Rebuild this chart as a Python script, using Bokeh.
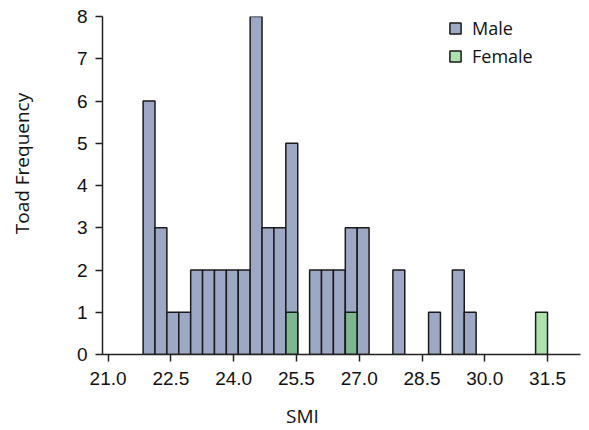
import math
from bokeh.plotting import figure
from bokeh.models import (Range1d, FixedTicker, PrintfTickFormatter, Legend,
                          LegendItem, Label, ColumnDataSource)
from bokeh.embed import file_html
from bokeh.resources import INLINE

# ---- data ----
bin_start = 21.836
bin_width = 0.2842
male_counts = [6, 3, 1, 1, 2, 2, 2, 2, 2, 8, 3, 3, 5, 0, 2, 2, 2, 3, 3, 0,
               0, 2, 0, 0, 1, 0, 2, 1, 0, 0, 0, 0, 0, 0]
female_counts = [0, 0, 0, 0, 0, 0, 0, 0, 0, 0, 0, 0, 1, 0, 0, 0, 0, 1, 0, 0,
                 0, 0, 0, 0, 0, 0, 0, 0, 0, 0, 0, 0, 0, 1]
x_ticks = [21.0, 22.5, 24.0, 25.5, 27.0, 28.5, 30.0, 31.5]
y_ticks = [0, 1, 2, 3, 4, 5, 6, 7, 8]
series_names = ["Male", "Female"]
x_title = "SMI"
y_title = "Toad Frequency"


def bars(counts):
    left, right, top = [], [], []
    for i, c in enumerate(counts):
        if c > 0:
            left.append(bin_start + i * bin_width)
            right.append(bin_start + (i + 1) * bin_width)
            top.append(c)
    return ColumnDataSource(dict(left=left, right=right, top=top,
                                 bottom=[0] * len(top)))


MALE = "#9da8c4"
FEMALE = "#5fc35f"
INK = "#1a1a1a"

p = figure(width=581, height=430, output_backend="svg", toolbar_location=None,
           x_range=Range1d(20.866, 32.287), y_range=Range1d(0, 8),
           min_border_left=102, min_border_right=1, min_border_top=16,
           min_border_bottom=76)
p.outline_line_color = None
p.grid.visible = False

p.quad(left="left", right="right", top="top", bottom="bottom",
       source=bars(male_counts), fill_color=MALE, line_color=INK,
       line_width=1.5)
p.quad(left="left", right="right", top="top", bottom="bottom",
       source=bars(female_counts), fill_color=FEMALE, fill_alpha=0.5,
       line_color=INK, line_width=1.5)

# legend-only renderers (no visible data points)
nan = float("nan")
rm = p.scatter([nan], [nan], marker="square", fill_color=MALE,
               line_color=INK, line_width=1.5)
rf = p.scatter([nan], [nan], marker="square", fill_color=FEMALE,
               fill_alpha=0.5, line_color=INK, line_width=1.5)
legend = Legend(items=[LegendItem(label=series_names[0], renderers=[rm]),
                       LegendItem(label=series_names[1], renderers=[rf])],
                location=(339, 284), glyph_width=28, glyph_height=28,
                label_height=28, spacing=0, padding=0, margin=0,
                label_standoff=3, border_line_color=None,
                background_fill_alpha=0, label_text_font="Open Sans",
                label_text_font_size="18px", label_text_color="#111111")
p.add_layout(legend)

for ax in (p.xaxis[0], p.yaxis[0]):
    ax.axis_line_color = "#222222"
    ax.axis_line_width = 1.5
    ax.major_tick_line_color = "#222222"
    ax.major_tick_line_width = 1.5
    ax.major_tick_out = 7
    ax.major_tick_in = 0
    ax.minor_tick_line_color = None
    ax.major_label_text_font = "Liberation Sans"
    ax.major_label_text_font_size = "19px"
    ax.major_label_text_color = "#111111"

p.xaxis.ticker = FixedTicker(ticks=x_ticks)
p.xaxis.formatter = PrintfTickFormatter(format="%.1f")
p.xaxis.major_label_standoff = 10
p.yaxis.ticker = FixedTicker(ticks=y_ticks)
p.yaxis.major_label_standoff = 8

# axis titles as labels placed in the side panels (outside the frame)
p.add_layout(Label(x=200, y=-2, x_units="screen", y_units="screen",
                   text=x_title, text_align="center",
                   text_baseline="middle", text_font="Open Sans",
                   text_font_size="19px", text_color="#111111"), "below")
p.add_layout(Label(x=-26, y=191, x_units="screen", y_units="screen",
                   text=y_title, angle=math.pi / 2, text_align="center",
                   text_baseline="middle", text_font="Open Sans",
                   text_font_size="19px", text_color="#111111"), "left")

open("out.html", "w").write(file_html(p, INLINE))
